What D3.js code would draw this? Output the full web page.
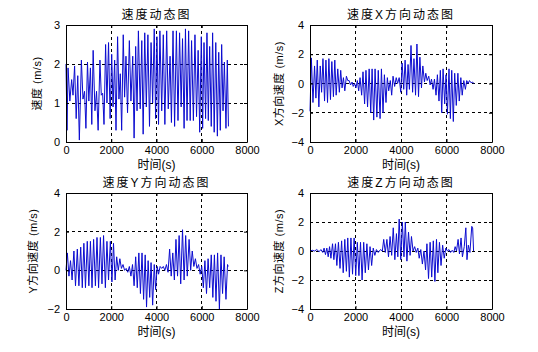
<!DOCTYPE html>
<html>
<head>
<meta charset="utf-8">
<script src="https://cdn.jsdelivr.net/npm/d3@7"></script>
<style>
  body { margin: 0; background: #fff; }
  svg { display: block; }
  .tick text { font-family: "Liberation Sans", Arial, sans-serif; font-size: 11px; fill: #000; }
  .lbl { font-family: "Liberation Sans", "Noto Sans CJK SC", sans-serif; fill: #000; }
</style>
</head>
<body>
<div id="chart"></div>
<script>
// x ticks shared by all panels
var xTicks = [0, 2000, 4000, 6000, 8000];

// 速度动态图
var speedT = [0, 45, 90, 170, 250, 310, 380, 450, 520, 590, 680, 750, 820, 880, 950, 1010, 1080, 1140, 1200, 1280, 1350, 1420, 1500, 1560, 1620, 1680, 1750, 1810, 1880, 1950, 2020, 2080, 2150, 2210, 2280, 2340, 2400, 2460, 2530, 2590, 2650, 2720, 2800, 2870, 2950, 3010, 3080, 3140, 3200, 3280, 3350, 3410, 3480, 3550, 3620, 3690, 3760, 3830, 3900, 3960, 4020, 4090, 4150, 4230, 4300, 4370, 4450, 4520, 4600, 4660, 4730, 4800, 4880, 4950, 5020, 5090, 5150, 5220, 5280, 5350, 5420, 5490, 5550, 5630, 5700, 5770, 5840, 5910, 5980, 6040, 6100, 6170, 6230, 6290, 6350, 6420, 6480, 6550, 6620, 6690, 6750, 6820, 6880, 6940, 7000, 7070, 7130, 7180];
var speedV = [2.0, 0.3, 1.9, 1.05, 1.6, 1.2, 1.95, 0.6, 1.7, 0.05, 2.1, 1.1, 1.3, 0.35, 2.05, 1.05, 1.9, 0.45, 2.35, 0.8, 1.3, 0.3, 2.1, 1.2, 1.25, 0.45, 2.5, 1.0, 2.55, 0.6, 2.25, 0.9, 2.1, 0.3, 2.7, 1.1, 1.75, 0.3, 2.75, 1.15, 2.2, 0.75, 2.6, 1.05, 2.2, 0.1, 2.45, 0.8, 2.85, 0.85, 2.6, 0.2, 2.8, 0.9, 2.75, 0.4, 2.55, 1.0, 2.9, 0.6, 2.7, 0.45, 2.85, 0.8, 2.75, 0.45, 2.85, 0.85, 2.2, 0.5, 2.85, 0.4, 2.85, 0.55, 2.8, 0.9, 2.65, 0.35, 2.9, 0.55, 2.85, 0.55, 2.6, 0.55, 2.75, 0.65, 2.35, 0.25, 2.7, 0.35, 2.55, 0.6, 2.8, 0.55, 2.45, 0.4, 2.8, 0.25, 2.55, 0.15, 2.3, 0.3, 2.5, 0.8, 2.05, 0.35, 2.1, 0.4];

// 速度X方向动态图
var velXT = [0, 60, 130, 200, 260, 320, 390, 450, 510, 570, 640, 700, 770, 830, 900, 960, 1030, 1090, 1150, 1220, 1290, 1350, 1410, 1470, 1530, 1600, 1660, 1720, 1780, 1850, 1900, 1960, 2020, 2080, 2140, 2200, 2270, 2330, 2400, 2460, 2530, 2600, 2670, 2730, 2800, 2860, 2940, 3000, 3080, 3140, 3210, 3270, 3340, 3400, 3460, 3530, 3590, 3650, 3720, 3790, 3850, 3920, 3990, 4050, 4120, 4180, 4250, 4310, 4370, 4440, 4510, 4570, 4640, 4700, 4770, 4830, 4900, 4960, 5030, 5090, 5150, 5220, 5280, 5340, 5410, 5470, 5540, 5600, 5670, 5730, 5790, 5850, 5920, 5980, 6040, 6110, 6170, 6230, 6300, 6360, 6430, 6500, 6560, 6630, 6690, 6760, 6830, 6890, 6950, 7010, 7080, 7150, 7200];
var velXV = [-1.9, 1.75, -1.3, 1.2, -1.0, 1.6, -1.6, 1.2, -0.6, 1.7, -1.2, 1.6, -1.3, 1.7, -1.1, 1.5, -0.9, 1.6, -0.8, 1.0, -0.6, 0.9, -0.3, 0.4, -0.5, 0.5, 0.2, 0.2, -0.1, 0.1, -0.2, 0.0, -0.3, 0.2, -0.5, 0.4, -0.8, 0.8, -1.4, 0.9, -1.6, 1.0, -2.0, 1.0, -2.5, 1.0, -2.3, 0.9, -2.4, 1.0, -2.0, 0.6, -1.3, 0.4, -0.5, 0.2, -0.8, 0.5, -0.2, 0.4, 0.0, 0.4, -0.6, 1.4, -0.4, 1.6, -0.8, 1.3, -0.4, 2.6, -0.6, 1.7, -0.8, 2.7, -0.9, 1.8, -0.3, 1.2, 0.1, 0.7, 0.2, 0.5, -0.1, 0.3, -0.4, 0.3, -0.8, 0.6, -1.2, 0.9, -2.0, 1.0, -1.4, 0.6, -2.1, 1.0, -2.4, 0.9, -2.6, 0.7, -1.5, 0.7, -1.2, 0.4, -0.8, 0.2, -0.4, 0.2, 0.0, 0.2, 0.05, 0.1, 0.0];

// 速度Y方向动态图
var velYT = [0, 60, 130, 200, 270, 350, 420, 500, 570, 650, 720, 790, 860, 940, 1010, 1080, 1150, 1220, 1300, 1370, 1440, 1520, 1590, 1660, 1740, 1810, 1880, 1960, 2030, 2100, 2170, 2240, 2310, 2380, 2450, 2520, 2590, 2660, 2730, 2800, 2870, 2940, 3010, 3080, 3150, 3220, 3290, 3360, 3430, 3500, 3560, 3630, 3700, 3760, 3830, 3900, 3960, 4030, 4090, 4160, 4230, 4300, 4370, 4440, 4510, 4580, 4650, 4720, 4790, 4860, 4930, 5000, 5070, 5150, 5220, 5290, 5360, 5440, 5510, 5580, 5650, 5720, 5790, 5860, 5930, 6000, 6070, 6140, 6210, 6280, 6350, 6420, 6490, 6560, 6630, 6700, 6780, 6850, 6920, 6990, 7070, 7140, 7170];
var velYV = [0.0, 0.9, -0.3, 0.5, -0.5, 1.0, -0.8, 1.1, -0.8, 1.2, -0.9, 1.4, -0.9, 1.5, -0.8, 1.5, -0.9, 1.6, -0.8, 1.7, -0.9, 1.7, -0.7, 1.8, -0.9, 1.5, -0.5, 1.5, -0.6, 1.4, -0.5, 0.7, 0.0, 0.6, 0.1, 0.3, 0.0, 0.1, -0.1, 0.2, -0.3, 0.3, -0.8, 0.7, -0.9, 0.9, -1.2, 0.9, -1.5, 0.8, -1.9, 0.5, -1.4, 0.4, -1.8, 0.3, -1.0, 0.2, -0.2, 0.2, 0.1, 0.2, 0.0, 0.3, -0.1, 1.1, -0.3, 0.9, -0.5, 1.6, -0.3, 1.8, -0.7, 2.1, -0.5, 1.8, -0.3, 1.6, 0.0, 1.0, 0.2, 0.6, 0.1, 0.3, -0.2, 0.2, -0.9, 0.5, -1.2, 0.6, -0.9, 0.8, -1.4, 0.8, -1.6, 0.9, -2.0, 0.8, -1.2, 0.7, -1.5, 0.3, 0.2];

// 速度Z方向动态图
var velZT = [0, 100, 200, 300, 400, 480, 560, 620, 680, 740, 800, 860, 920, 990, 1050, 1120, 1180, 1250, 1320, 1390, 1460, 1530, 1600, 1660, 1730, 1800, 1870, 1940, 2010, 2080, 2150, 2220, 2290, 2360, 2430, 2500, 2570, 2640, 2710, 2780, 2850, 2920, 3000, 3100, 3180, 3240, 3310, 3380, 3450, 3520, 3590, 3660, 3730, 3800, 3860, 3920, 3990, 4060, 4130, 4190, 4260, 4330, 4400, 4460, 4530, 4600, 4670, 4740, 4800, 4870, 4940, 5010, 5080, 5140, 5210, 5280, 5350, 5420, 5490, 5560, 5620, 5690, 5760, 5830, 5900, 5970, 6040, 6110, 6180, 6250, 6320, 6380, 6440, 6510, 6570, 6640, 6700, 6780, 6850, 6900, 6960, 7030, 7110, 7150, 7190];
var velZV = [0.0, 0.05, 0.0, 0.1, -0.05, 0.1, -0.1, 0.2, -0.25, 0.2, -0.4, 0.3, -0.5, 0.5, -0.6, 0.5, -1.0, 0.6, -1.2, 0.7, -1.5, 0.8, -1.4, 0.9, -1.8, 0.9, -1.6, 0.9, -1.7, 0.6, -1.7, 0.6, -2.0, 0.6, -1.5, 0.5, -1.3, 0.3, -1.0, 0.2, -0.3, 0.1, -0.1, 0.1, 0.0, 0.8, -0.1, 0.8, -0.4, 1.0, -0.3, 1.6, -0.6, 1.2, -0.4, 2.2, -0.6, 2.0, -0.4, 2.0, -0.7, 1.3, -0.3, 1.0, 0.0, 0.3, -0.1, 0.2, -0.5, 0.1, -0.9, 0.0, -1.3, 0.5, -1.9, 0.6, -1.8, 0.7, -2.1, 0.8, -1.5, 0.6, -1.0, 0.4, -0.5, 0.2, 0.0, 0.1, -0.1, 0.05, -0.1, 0.3, 0.0, 0.8, -0.2, 0.9, -0.4, 0.3, 1.6, -0.6, 0.4, -0.1, 1.7, 1.6, 0.0];

var W = 538, H = 352;
var svg = d3.select("#chart").append("svg").attr("width", W).attr("height", H);

var panels = [
  { left: 66, top: 25, w: 181, h: 117, yDomain: [0, 3], yTicks: [0, 1, 2, 3], t: speedT, v: speedV,
    title: "速度动态图", ylabel: "速度 (m/s)", ylx: 38 },
  { left: 310, top: 25, w: 182, h: 117, yDomain: [-4, 4], yTicks: [-4, -2, 0, 2, 4], t: velXT, v: velXV,
    title: "速度X方向动态图", ylabel: "X方向速度 (m/s)", ylx: 280 },
  { left: 66, top: 193, w: 181, h: 116, yDomain: [-2, 4], yTicks: [-2, 0, 2, 4], t: velYT, v: velYV,
    title: "速度Y方向动态图", ylabel: "Y方向速度 (m/s)", ylx: 34 },
  { left: 310, top: 193, w: 182, h: 116, yDomain: [-4, 4], yTicks: [-4, -2, 0, 2, 4], t: velZT, v: velZV,
    title: "速度Z方向动态图", ylabel: "Z方向速度 (m/s)", ylx: 280 }
];

panels.forEach(function (p) {
  var g = svg.append("g").attr("transform", "translate(" + p.left + "," + p.top + ")");
  var x = d3.scaleLinear().domain([0, 8000]).range([0, p.w]);
  var y = d3.scaleLinear().domain(p.yDomain).range([p.h, 0]);

  // dashed grid (inner lines only)
  g.append("g").selectAll("line").data(xTicks.slice(1, -1)).join("line")
    .attr("x1", function (d) { return x(d); }).attr("x2", function (d) { return x(d); })
    .attr("y1", 0).attr("y2", p.h)
    .attr("stroke", "#000").attr("stroke-dasharray", "3,3").attr("stroke-width", 1)
    .attr("shape-rendering", "crispEdges");
  g.append("g").selectAll("line").data(p.yTicks.slice(1, -1)).join("line")
    .attr("y1", function (d) { return y(d); }).attr("y2", function (d) { return y(d); })
    .attr("x1", 0).attr("x2", p.w)
    .attr("stroke", "#000").attr("stroke-dasharray", "3,3").attr("stroke-width", 1)
    .attr("shape-rendering", "crispEdges");

  // data line
  var pts = p.t.map(function (t, i) { return [t, p.v[i]]; });
  g.append("path").datum(pts)
    .attr("fill", "none").attr("stroke", "#0b0bd0").attr("stroke-width", 1)
    .attr("d", d3.line().x(function (d) { return x(d[0]); }).y(function (d) { return y(d[1]); }));

  // axes with inward ticks
  var bottom = g.append("g").attr("transform", "translate(0," + p.h + ")")
    .call(d3.axisBottom(x).tickValues(xTicks).tickFormat(d3.format("d"))
      .tickSizeInner(-3).tickSizeOuter(0).tickPadding(4));
  var left = g.append("g")
    .call(d3.axisLeft(y).tickValues(p.yTicks).tickFormat(d3.format("d"))
      .tickSizeInner(-3).tickSizeOuter(0).tickPadding(6));
  var top = g.append("g")
    .call(d3.axisTop(x).tickValues(xTicks).tickSizeInner(-3).tickSizeOuter(0).tickFormat(""));
  var right = g.append("g").attr("transform", "translate(" + p.w + ",0)")
    .call(d3.axisRight(y).tickValues(p.yTicks).tickSizeInner(-3).tickSizeOuter(0).tickFormat(""));
  [bottom, left, top, right].forEach(function (a) {
    a.select(".domain").attr("stroke", "#000");
    a.selectAll(".tick line").attr("stroke", "#000");
  });

  // title
  svg.append("text").attr("class", "lbl")
    .attr("x", p.left + p.w / 2).attr("y", p.top - 6)
    .attr("text-anchor", "middle").attr("font-size", 12).attr("letter-spacing", 2)
    .text(p.title);

  // x label
  svg.append("text").attr("class", "lbl")
    .attr("x", p.left + p.w / 2).attr("y", p.top + p.h + 27)
    .attr("text-anchor", "middle").attr("font-size", 12)
    .text("时间(s)");

  // y label
  svg.append("text").attr("class", "lbl")
    .attr("transform", "translate(" + p.ylx + "," + (p.top + p.h / 2) + ") rotate(-90)")
    .attr("text-anchor", "middle").attr("dominant-baseline", "middle")
    .attr("font-size", 11).attr("letter-spacing", 0.5)
    .text(p.ylabel);
});
</script>
</body>
</html>
